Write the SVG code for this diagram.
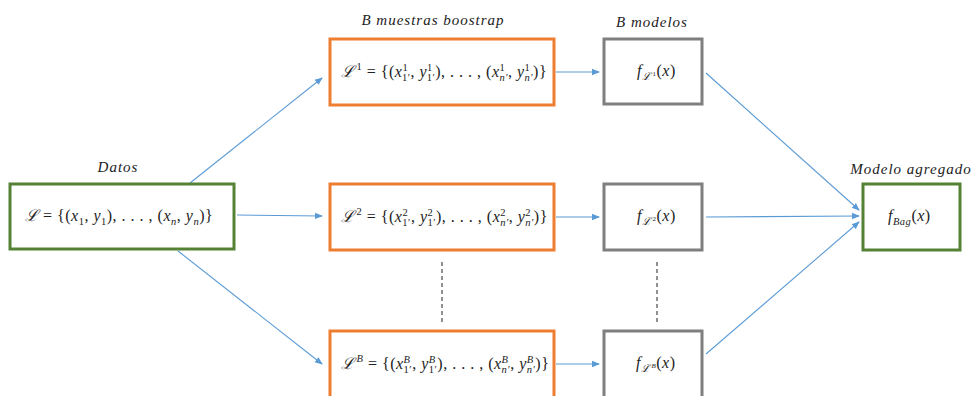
<svg xmlns="http://www.w3.org/2000/svg" width="973" height="396" viewBox="0 0 973 396">
<defs>
<marker id="ah" markerUnits="userSpaceOnUse" markerWidth="8" markerHeight="8" viewBox="0 0 8 8" refX="7" refY="4" orient="auto">
<path d="M0,0.8 L8,4 L0,7.2 Z" fill="#5B9BD5"/>
</marker>
<style>
.lab{font-family:"Liberation Serif","DejaVu Serif",serif;font-style:italic;font-size:15px;letter-spacing:1px;fill:#222}
.m{font-family:"Liberation Serif","DejaVu Serif",serif;font-size:16px;letter-spacing:0.5px;fill:#222}
.i{font-style:italic}
.s{font-size:10.5px}
.ss{font-size:7px}
.green{fill:#fff;stroke:#548235;stroke-width:3}
.orange{fill:#fff;stroke:#ED7D31;stroke-width:3}
.gray{fill:#fff;stroke:#7F7F7F;stroke-width:3}
.con{stroke:#5B9BD5;stroke-width:1.1;fill:none;marker-end:url(#ah)}
.dash{stroke:#222;stroke-width:1;stroke-dasharray:4,3;fill:none}
</style>
</defs>
<rect width="973" height="396" fill="#fff"/>

<g id="connectors">
<line class="con" x1="190" y1="183" x2="322" y2="78"/>
<line class="con" x1="237" y1="215" x2="322" y2="216"/>
<line class="con" x1="178" y1="251" x2="322" y2="364"/>
<line class="con" x1="556" y1="72" x2="599" y2="72"/>
<line class="con" x1="556" y1="217" x2="599" y2="217"/>
<line class="con" x1="556" y1="364" x2="599" y2="364"/>
<line class="con" x1="706" y1="73" x2="859" y2="210"/>
<line class="con" x1="706" y1="217" x2="859" y2="216"/>
<line class="con" x1="706" y1="354" x2="859" y2="222"/>
<line class="dash" x1="442" y1="262" x2="442" y2="322"/>
<line class="dash" x1="657" y1="262" x2="657" y2="322"/>
</g>

<g id="labels">
<text class="lab" x="118" y="172" text-anchor="middle">Datos</text>
<text class="lab" x="433" y="25" text-anchor="middle">B muestras boostrap</text>
<text class="lab" x="652" y="27" text-anchor="middle">B modelos</text>
<text class="lab" x="911" y="174" text-anchor="middle">Modelo agregado</text>
</g>

<g id="datos">
<rect class="green" x="10" y="184" width="224" height="65"/>
<text class="m" x="25" y="221"><tspan class="i">ℒ</tspan> = {(<tspan class="i">x</tspan><tspan class="s" dy="4">1</tspan><tspan dy="-4">, </tspan><tspan class="i">y</tspan><tspan class="s" dy="4">1</tspan><tspan dy="-4">), . . . , (</tspan><tspan class="i">x</tspan><tspan class="s i" dy="4">n</tspan><tspan dy="-4">, </tspan><tspan class="i">y</tspan><tspan class="s i" dy="4">n</tspan><tspan dy="-4">)}</tspan></text>
</g>

<g id="muestra1">
<rect class="orange" x="330" y="39" width="224" height="66"/>
<text class="m" x="341" y="77"><tspan class="i">ℒ</tspan><tspan class="s" dx="2" dy="-7">1</tspan><tspan dy="7"> = {(</tspan><tspan class="i">x</tspan><tspan class="s" dy="-6">1</tspan><tspan class="s" dx="-5.8" dy="10">1′</tspan><tspan dy="-4">, </tspan><tspan class="i">y</tspan><tspan class="s" dy="-6">1</tspan><tspan class="s" dx="-5.8" dy="10">1′</tspan><tspan dy="-4">), . . . , (</tspan><tspan class="i">x</tspan><tspan class="s" dy="-6">1</tspan><tspan class="s i" dx="-5.8" dy="10">n′</tspan><tspan dy="-4">, </tspan><tspan class="i">y</tspan><tspan class="s" dy="-6">1</tspan><tspan class="s i" dx="-5.8" dy="10">n′</tspan><tspan dy="-4">)}</tspan></text>
</g>

<g id="muestra2">
<rect class="orange" x="330" y="184" width="224" height="66"/>
<text class="m" x="341" y="222"><tspan class="i">ℒ</tspan><tspan class="s" dx="2" dy="-7">2</tspan><tspan dy="7"> = {(</tspan><tspan class="i">x</tspan><tspan class="s" dy="-6">2</tspan><tspan class="s" dx="-5.8" dy="10">1′</tspan><tspan dy="-4">, </tspan><tspan class="i">y</tspan><tspan class="s" dy="-6">2</tspan><tspan class="s" dx="-5.8" dy="10">1′</tspan><tspan dy="-4">), . . . , (</tspan><tspan class="i">x</tspan><tspan class="s" dy="-6">2</tspan><tspan class="s i" dx="-5.8" dy="10">n′</tspan><tspan dy="-4">, </tspan><tspan class="i">y</tspan><tspan class="s" dy="-6">2</tspan><tspan class="s i" dx="-5.8" dy="10">n′</tspan><tspan dy="-4">)}</tspan></text>
</g>

<g id="muestraB">
<rect class="orange" x="330" y="331" width="224" height="67"/>
<text class="m" x="341" y="369"><tspan class="i">ℒ</tspan><tspan class="s i" dx="2" dy="-7">B</tspan><tspan dy="7"> = {(</tspan><tspan class="i">x</tspan><tspan class="s i" dy="-6">B</tspan><tspan class="s" dx="-6.9" dy="10">1′</tspan><tspan dy="-4">, </tspan><tspan class="i">y</tspan><tspan class="s i" dy="-6">B</tspan><tspan class="s" dx="-6.9" dy="10">1′</tspan><tspan dy="-4">), . . . , (</tspan><tspan class="i">x</tspan><tspan class="s i" dy="-6">B</tspan><tspan class="s i" dx="-6.9" dy="10">n′</tspan><tspan dy="-4">, </tspan><tspan class="i">y</tspan><tspan class="s i" dy="-6">B</tspan><tspan class="s i" dx="-6.9" dy="10">n′</tspan><tspan dy="-4">)}</tspan></text>
</g>

<g id="modelo1">
<rect class="gray" x="604" y="39" width="98" height="65"/>
<text class="m" x="637" y="76"><tspan class="i">f</tspan><tspan class="s i" dy="4">ℒ</tspan><tspan class="ss" dx="1" dy="-4">1</tspan><tspan>(</tspan><tspan class="i">x</tspan>)</text>
</g>

<g id="modelo2">
<rect class="gray" x="604" y="184" width="98" height="66"/>
<text class="m" x="637" y="221"><tspan class="i">f</tspan><tspan class="s i" dy="4">ℒ</tspan><tspan class="ss" dx="1" dy="-4">2</tspan><tspan>(</tspan><tspan class="i">x</tspan>)</text>
</g>

<g id="modeloB">
<rect class="gray" x="604" y="331" width="98" height="67"/>
<text class="m" x="636" y="368"><tspan class="i">f</tspan><tspan class="s i" dy="4">ℒ</tspan><tspan class="ss i" dx="1" dy="-4">B</tspan><tspan>(</tspan><tspan class="i">x</tspan>)</text>
</g>

<g id="agregado">
<rect class="green" x="863" y="184" width="97" height="66"/>
<text class="m" x="888" y="221"><tspan class="i">f</tspan><tspan class="s i" dy="4">Bag</tspan><tspan dy="-4">(</tspan><tspan class="i">x</tspan>)</text>
</g>
</svg>
